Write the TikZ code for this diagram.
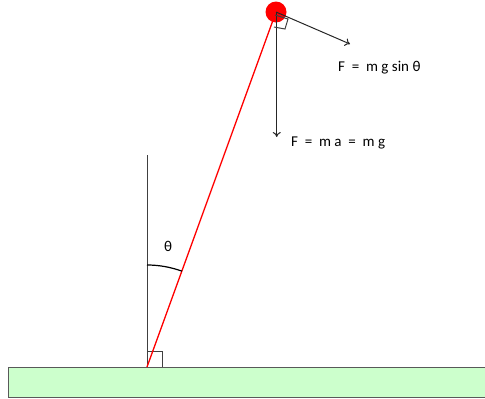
\documentclass[tikz,border=0pt]{standalone}
\usepackage{fontspec}
\setmainfont{Carlito}
\usetikzlibrary{arrows.meta}
\begin{document}
\begin{tikzpicture}[x=1pt,y=-1pt,
  thin line/.style={draw=black!75, line width=1pt},
  force/.style={draw=black!85, line width=1pt, -{To[length=5pt,width=8pt]}},
  lbl/.style={font=\fontsize{15}{17}\selectfont, inner sep=0pt}]
\useasboundingbox (0,0) rectangle (485,399);
% ground
\node[draw=black!65, fill=green!20, line width=1pt, minimum width=490pt, minimum height=30pt, anchor=north west, inner sep=0pt] (ground) at (8,367) {};
\coordinate (pivot) at (147,367);
\coordinate (vtop) at (147,155);
\node[circle, fill=red, minimum size=21pt, inner sep=0pt] (ball) at (276,12) {};
\coordinate (gtip) at (276.7,137);
\coordinate (stip) at (350,44);
% vertical reference line and right angle
\draw[thin line] (pivot) -- (vtop);
\draw[thin line] (pivot) ++(0,-16) -- ++(15,0) -- ++(0,16);
% rod
\draw[red, line width=1.3pt] (pivot) -- (ball.center);
% angle arc
\draw[black, line width=1.2pt] (pivot) ++(-90:102) arc[start angle=-90, end angle=-70, radius=102];
\node[lbl] (theta) at (168,246) {θ};
% forces
\draw[force] (ball.center -| gtip) -- (gtip);
\draw[force] (ball.center) -- (stip);
\draw[thin line] (275,15) -- (288,19) -- (285,29) -- (274,27);
\node[lbl, anchor=west] (f1) at (338,68) {F\ \ =\ \ m\ g\ sin\ θ};
\node[lbl, anchor=west] (f2) at (291,143) {F\ \ =\ \ m\ a\ \ =\ \ m\ g};
\end{tikzpicture}
\end{document}
